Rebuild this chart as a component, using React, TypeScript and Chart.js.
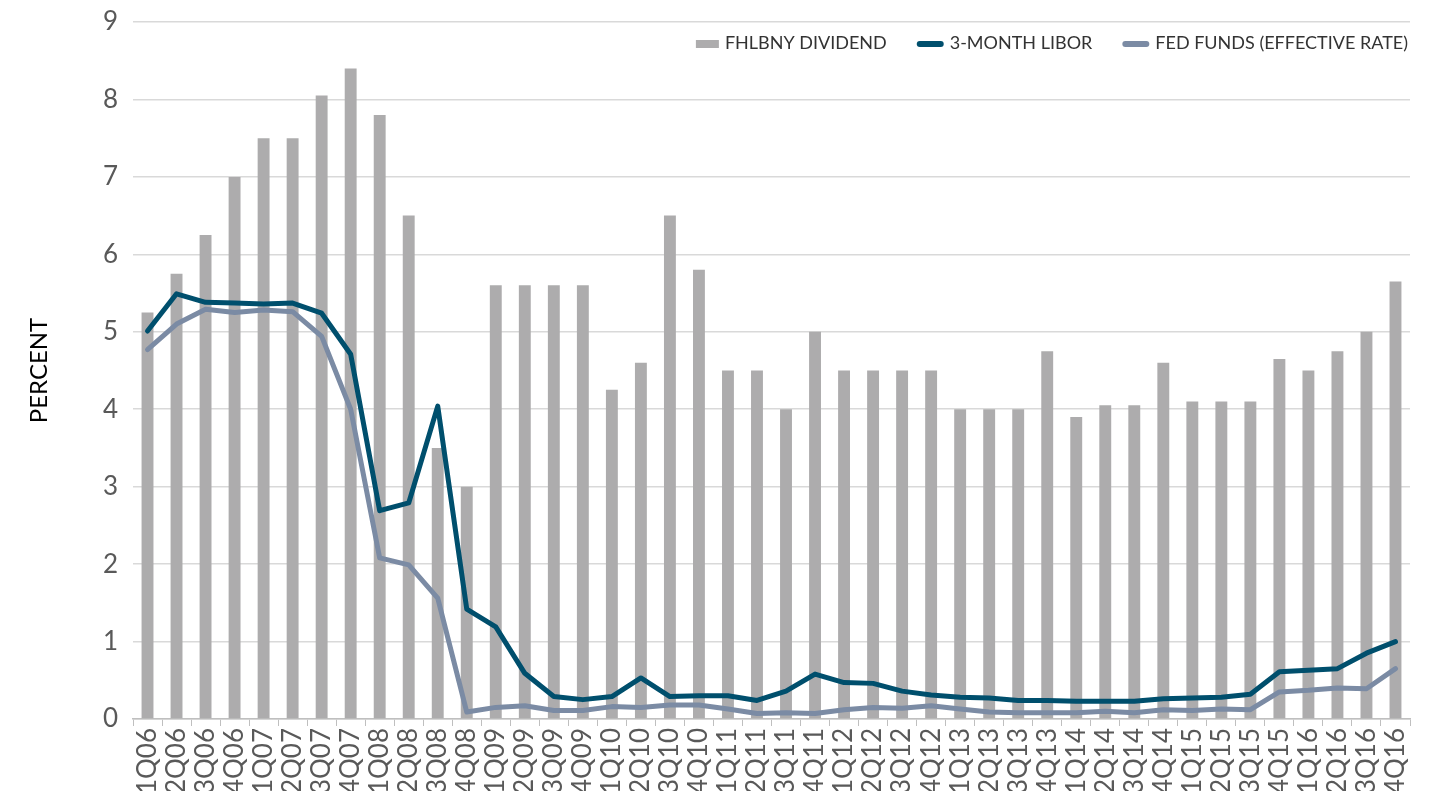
import React, { useEffect, useRef } from "react";
import { Chart, registerables } from "chart.js";

Chart.register(...registerables);

const quarters = [
  "1Q06", "2Q06", "3Q06", "4Q06", "1Q07", "2Q07", "3Q07", "4Q07",
  "1Q08", "2Q08", "3Q08", "4Q08", "1Q09", "2Q09", "3Q09", "4Q09",
  "1Q10", "2Q10", "3Q10", "4Q10", "1Q11", "2Q11", "3Q11", "4Q11",
  "1Q12", "2Q12", "3Q12", "4Q12", "1Q13", "2Q13", "3Q13", "4Q13",
  "1Q14", "2Q14", "3Q14", "4Q14", "1Q15", "2Q15", "3Q15", "4Q15",
  "1Q16", "2Q16", "3Q16", "4Q16",
];

const dividend = [
  5.25, 5.75, 6.25, 7.0, 7.5, 7.5, 8.05, 8.4,
  7.8, 6.5, 3.5, 3.0, 5.6, 5.6, 5.6, 5.6,
  4.25, 4.6, 6.5, 5.8, 4.5, 4.5, 4.0, 5.0,
  4.5, 4.5, 4.5, 4.5, 4.0, 4.0, 4.0, 4.75,
  3.9, 4.05, 4.05, 4.6, 4.1, 4.1, 4.1, 4.65,
  4.5, 4.75, 5.0, 5.65,
];

const libor = [
  5.01, 5.49, 5.38, 5.37, 5.36, 5.37, 5.24, 4.71,
  2.69, 2.79, 4.04, 1.42, 1.19, 0.59, 0.29, 0.25,
  0.29, 0.53, 0.29, 0.30, 0.30, 0.24, 0.36, 0.58,
  0.47, 0.46, 0.36, 0.31, 0.28, 0.27, 0.24, 0.24,
  0.23, 0.23, 0.23, 0.26, 0.27, 0.28, 0.32, 0.61,
  0.63, 0.65, 0.85, 1.0,
];

const fedFunds = [
  4.77, 5.1, 5.29, 5.25, 5.28, 5.26, 4.94, 4.0,
  2.08, 1.99, 1.56, 0.09, 0.15, 0.17, 0.11, 0.11,
  0.16, 0.15, 0.18, 0.18, 0.13, 0.07, 0.08, 0.07,
  0.12, 0.15, 0.14, 0.17, 0.13, 0.09, 0.08, 0.08,
  0.08, 0.1, 0.08, 0.12, 0.11, 0.13, 0.12, 0.35,
  0.37, 0.4, 0.39, 0.65,
];

const yTicks = [0, 1, 2, 3, 4, 5, 6, 7, 8, 9];

const seriesNames = ["FHLBNY DIVIDEND", "3-MONTH LIBOR", "FED FUNDS (EFFECTIVE RATE)"];
const BAR_COLOR = "#adacad";
const LIBOR_COLOR = "#004f6d";
const FED_COLOR = "#7b8ba4";
const FONT = "Lato, 'Open Sans', sans-serif";

const insideLegend = {
  id: "insideLegend",
  afterDraw(chart: any) {
    const { ctx, chartArea } = chart;
    ctx.save();
    ctx.font = `18px ${FONT}`;
    ctx.textBaseline = "middle";
    ctx.textAlign = "left";
    const y = chartArea.top + 21;
    const swatchW = [23, 27, 27];
    const gapText = 6;
    const gapItem = 30;
    const widths = seriesNames.map((n) => ctx.measureText(n).width);
    let total = 0;
    for (let i = 0; i < 3; i++) total += swatchW[i] + gapText + widths[i];
    total += gapItem * 2;
    let x = chartArea.right - 2 - total;
    const colors = [BAR_COLOR, LIBOR_COLOR, FED_COLOR];
    for (let i = 0; i < 3; i++) {
      if (i === 0) {
        ctx.fillStyle = colors[i];
        ctx.fillRect(x, y - 3, swatchW[i], 8);
      } else {
        ctx.strokeStyle = colors[i];
        ctx.lineWidth = 6;
        ctx.lineCap = "round";
        ctx.beginPath();
        ctx.moveTo(x + 3, y + 1);
        ctx.lineTo(x + swatchW[i] - 3, y + 1);
        ctx.stroke();
      }
      x += swatchW[i] + gapText;
      ctx.fillStyle = "#333333";
      ctx.fillText(seriesNames[i], x, y);
      x += widths[i] + gapItem;
    }
    ctx.restore();
  },
};

export default function App() {
  const canvasRef = useRef<HTMLCanvasElement | null>(null);

  useEffect(() => {
    if (!canvasRef.current) return;
    const chart = new Chart(canvasRef.current, {
      type: "bar",
      data: {
        labels: quarters,
        datasets: [
          {
            type: "bar",
            label: seriesNames[0],
            data: dividend,
            backgroundColor: BAR_COLOR,
            barPercentage: 0.41,
            categoryPercentage: 1,
            order: 3,
          },
          {
            type: "line",
            label: seriesNames[2],
            data: fedFunds,
            borderColor: FED_COLOR,
            backgroundColor: FED_COLOR,
            borderWidth: 5,
            pointRadius: 0,
            tension: 0,
            borderJoinStyle: "round",
            borderCapStyle: "round",
            order: 2,
          },
          {
            type: "line",
            label: seriesNames[1],
            data: libor,
            borderColor: LIBOR_COLOR,
            backgroundColor: LIBOR_COLOR,
            borderWidth: 5,
            pointRadius: 0,
            tension: 0,
            borderJoinStyle: "round",
            borderCapStyle: "round",
            order: 1,
          },
        ],
      },
      options: {
        animation: false,
        responsive: true,
        maintainAspectRatio: false,
        layout: { padding: { top: 22, right: 43, left: 0, bottom: 0 } },
        plugins: {
          legend: { display: false },
          tooltip: { enabled: false },
        },
        scales: {
          x: {
            offset: true,
            grid: {
              display: true,
              offset: true,
              drawOnChartArea: false,
              drawTicks: true,
              tickLength: 7,
              color: "#bfbfbf",
              lineWidth: 1,
            },
            border: { display: true, color: "#bfbfbf", width: 1.5 },
            ticks: {
              autoSkip: false,
              minRotation: 90,
              maxRotation: 90,
              padding: 2,
              color: "#595959",
              font: { family: FONT, size: 26 },
            },
            afterFit: (scale: any) => {
              scale.height = 72;
              scale.paddingLeft = 0;
              scale.paddingRight = 0;
              scale.paddingTop = 0;
              scale.paddingBottom = 0;
            },
          },
          y: {
            min: 0,
            max: 9,
            afterBuildTicks: (scale: any) => {
              scale.ticks = yTicks.map((v) => ({ value: v }));
            },
            grid: {
              color: "#d9d9d9",
              lineWidth: 1.5,
              drawTicks: false,
            },
            border: { display: false },
            ticks: {
              padding: 15,
              color: "#595959",
              font: { family: FONT, size: 26 },
            },
            title: {
              display: true,
              text: "PERCENT",
              color: "#000000",
              font: { family: FONT, size: 24 },
              padding: { top: 25, bottom: 0 },
            },
            afterFit: (scale: any) => {
              scale.width = 133;
              scale.paddingTop = 0;
              scale.paddingBottom = 0;
            },
          },
        },
      },
      plugins: [insideLegend],
    } as any);
    return () => chart.destroy();
  }, []);

  return (
    <div
      style={{
        position: "fixed",
        left: 0,
        top: 0,
        width: "1453px",
        height: "791px",
        overflow: "hidden",
        background: "#ffffff",
      }}
    >
      <canvas ref={canvasRef} />
    </div>
  );
}
